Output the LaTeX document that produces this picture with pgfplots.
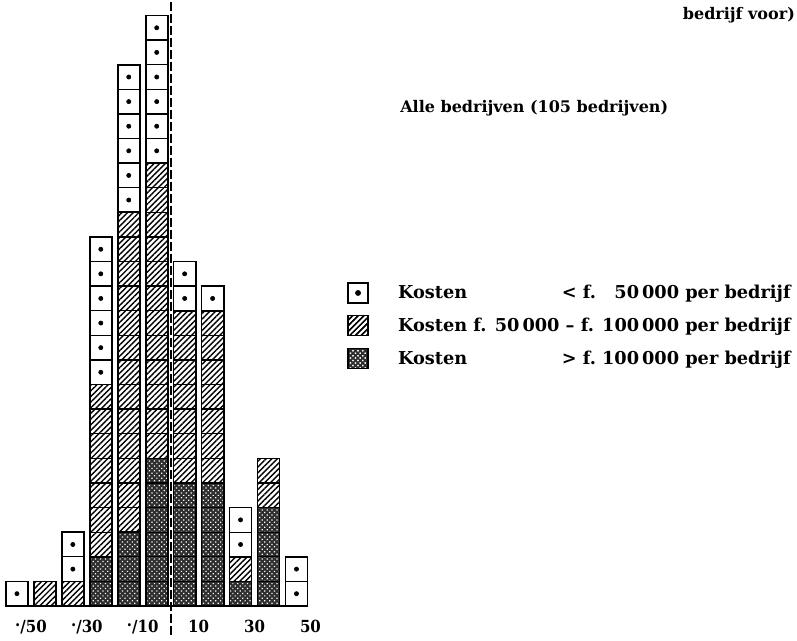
\documentclass[border=0pt]{standalone}
\usepackage{fontspec}
\setmainfont{DejaVu Serif}
\newfontfamily\condfont{DejaVu Serif Condensed}
\usepackage{pgfplots}
\pgfplotsset{compat=1.18}
\usepackage{pgfplotstable}
\usetikzlibrary{patterns,patterns.meta}

\newcommand{\mn}{\raisebox{.6ex}{.}/}
\newcommand{\lf}{\bfseries\fontsize{12}{14}\selectfont}
\newcommand{\legf}{\bfseries\fontsize{13.3}{15}\selectfont}
\newlength{\legw}
\AtBeginDocument{\settowidth{\legw}{\legf Kosten f. 50\,000 -- f. 100\,000 per bedrijf}}

% counts of firms (unit squares) per class
\pgfplotstableread{
x    dark hatch white
-55  0    0     1
-45  0    1     0
-35  0    1     2
-25  2    7     6
-15  3    13    6
-5   6    12    6
5    5    7     2
15   5    7     1
25   1    1     2
35   4    2     0
45   0    0     2
}\data

\tikzset{
  darkfill/.style={fill=black!82, postaction={pattern={Dots[distance=2.6pt, radius=0.65pt, angle=45]}, pattern color=white}},
  hatchfill/.style={fill=white, postaction={pattern={Lines[angle=45, distance=3pt, line width=1.05pt]}, pattern color=black}},
}
\pgfplotsset{
  base/.style={
    scale only axis, width=597.75pt, height=480pt,
    xmin=-61.07, xmax=224.08, ymin=-1.382, ymax=24.63,
    axis line style={draw=none}, major tick length=0pt,
    ytick=\empty,
  },
}

\begin{document}
\begin{tikzpicture}
\begin{axis}[base, xtick=\empty,
  ybar stacked, bar width=7.9,
  legend style={at={(axis cs:63.1,13.17)}, anchor=north west, draw=none, fill=none,
    inner sep=0pt, row sep=8.5pt, column sep=20pt, font=\legf, cells={anchor=west}},
  reverse legend]
\addplot[draw=black, line width=1.3pt, /tikz/darkfill,
  legend image code/.code={\draw[line width=1.1pt, darkfill] (0pt,-7.5pt) rectangle (15pt,7.5pt);}]
  table[x=x, y=dark] {\data};
\addplot[draw=black, line width=1.3pt, /tikz/hatchfill,
  legend image code/.code={\draw[line width=1.1pt, hatchfill] (0pt,-7.5pt) rectangle (15pt,7.5pt);}]
  table[x=x, y=hatch] {\data};
\addplot[draw=black, line width=1.3pt, fill=white,
  legend image code/.code={\draw[line width=1.1pt, fill=white] (0pt,-7.5pt) rectangle (15pt,7.5pt); \fill[black] (7.5pt,0pt) circle (1.5pt);}]
  table[x=x, y=white] {\data};
\legend{{\makebox[\legw][l]{Kosten\hfill >~f.~100\,000 per bedrijf}},
        {Kosten f. 50\,000 -- f. 100\,000 per bedrijf},
        {\makebox[\legw][l]{Kosten\hfill <~f.~\phantom{1}50\,000 per bedrijf}}}
\end{axis}

\begin{axis}[base,
  xtick={-50,-30,-10,10,30,50},
  xticklabels={{\mn50},{\mn30},{\mn10},{10},{30},{50}},
  xticklabel style={anchor=base, yshift=6pt, font=\condfont\bfseries\fontsize{12.5}{14}\selectfont}]
% baseline
\addplot[black, line width=1.2pt] coordinates {(-59.3,0) (48.7,0)};
% zero line
\addplot[black, line width=1.4pt, dash pattern=on 7pt off 2pt] coordinates {(0,-1.18) (0,24.63)};
% dividers between unit squares
\addplot[only marks, mark=-, mark size=8.2pt, mark options={line width=1pt, black}] coordinates {
(-35,1)(-35,2)
(-25,1)(-25,2)(-25,3)(-25,4)(-25,5)(-25,6)(-25,7)(-25,8)(-25,9)(-25,10)(-25,11)(-25,12)(-25,13)(-25,14)
(-15,1)(-15,2)(-15,3)(-15,4)(-15,5)(-15,6)(-15,7)(-15,8)(-15,9)(-15,10)(-15,11)(-15,12)(-15,13)(-15,14)(-15,15)(-15,16)(-15,17)(-15,18)(-15,19)(-15,20)(-15,21)
(-5,1)(-5,2)(-5,3)(-5,4)(-5,5)(-5,6)(-5,7)(-5,8)(-5,9)(-5,10)(-5,11)(-5,12)(-5,13)(-5,14)(-5,15)(-5,16)(-5,17)(-5,18)(-5,19)(-5,20)(-5,21)(-5,22)(-5,23)
(5,1)(5,2)(5,3)(5,4)(5,5)(5,6)(5,7)(5,8)(5,9)(5,10)(5,11)(5,12)(5,13)
(15,1)(15,2)(15,3)(15,4)(15,5)(15,6)(15,7)(15,8)(15,9)(15,10)(15,11)(15,12)
(25,1)(25,2)(25,3)
(35,1)(35,2)(35,3)(35,4)(35,5)
(45,1)
};
% dots in the white squares
\addplot[only marks, mark=*, mark size=1.6pt, black] coordinates {
(-55,0.5)
(-35,1.5)(-35,2.5)
(-25,9.5)(-25,10.5)(-25,11.5)(-25,12.5)(-25,13.5)(-25,14.5)
(-15,16.5)(-15,17.5)(-15,18.5)(-15,19.5)(-15,20.5)(-15,21.5)
(-5,18.5)(-5,19.5)(-5,20.5)(-5,21.5)(-5,22.5)(-5,23.5)
(5,12.5)(5,13.5)
(15,12.5)
(25,2.5)(25,3.5)
(45,0.5)(45,1.5)
};
\node[anchor=base east, inner sep=0pt, font=\lf] at (axis cs:223.4,23.82) {bedrijf voor)};
\node[anchor=base west, inner sep=0pt, font=\lf] at (axis cs:82.04,20.04) {Alle bedrijven (105 bedrijven)};
\end{axis}
\pgfresetboundingbox
\useasboundingbox (current axis.south west) rectangle (current axis.north east);
\end{tikzpicture}
\end{document}
